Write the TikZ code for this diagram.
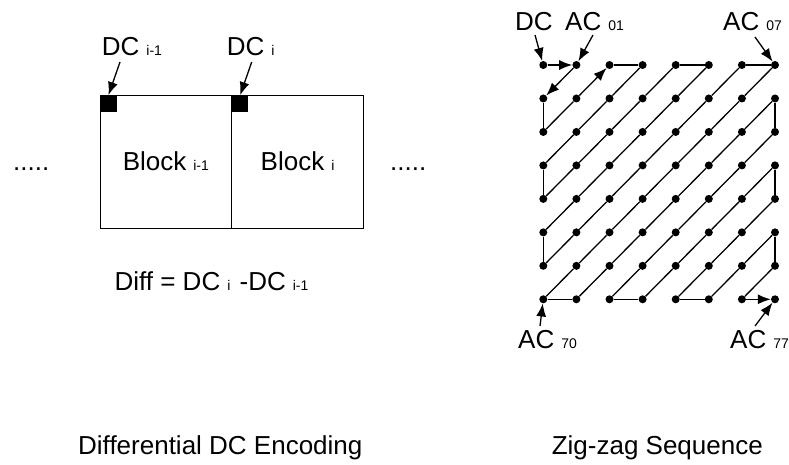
\documentclass[tikz,border=0pt]{standalone}
\usepackage{fontspec}
\setmainfont{Liberation Sans}
\usetikzlibrary{arrows.meta}
\newcommand{\sbs}[1]{\hspace{7pt}{\fontsize{14}{16}\selectfont #1}}
\begin{document}
\begin{tikzpicture}[x=1pt,y=-1pt,
  lbl/.style={inner sep=0pt, font=\fontsize{26}{30}\selectfont, anchor=base west},
  dot/.style={circle, fill=black, inner sep=0pt, minimum size=8pt},
  zz/.style={line width=1.3pt},
  arr/.style={line width=1.3pt, -{Latex[length=13pt,width=10pt]}},
  blk/.style={draw, line width=1pt, minimum width=131.7pt, minimum height=133.3pt, inner sep=0pt, font=\fontsize{26}{30}\selectfont},
  sqr/.style={fill=black, minimum size=16.5pt, inner sep=0pt}]
\useasboundingbox (0,0) rectangle (789,464);
\fill[white] (0,0) rectangle (789,464);
% ---------- Differential DC encoding ----------
\node[blk] (b1) at (165.85,161.65) {Block\sbs{i-1}};
\node[blk] (b2) at (297.55,161.65) {Block\sbs{i}};
\node[sqr] (sq1) at (108.5,103.5) {};
\node[sqr] (sq2) at (240.2,103.5) {};
\node[lbl] (dcim1) at (101.7,55) {DC\sbs{i-1}};
\node[lbl] (dci) at (226.7,55) {DC\sbs{i}};
\coordinate (ta) at (120,62);
\coordinate (tb) at (251.7,62);
\draw[arr] (ta) -- (sq1.north);
\draw[arr] (tb) -- (sq2.north);
\node[lbl] (dotl) at (13,170.7) {.....};
\node[lbl] (dotr) at (390,170.7) {.....};
\node[lbl, anchor=base] (diff) at (211.5,290) {Diff = DC\sbs{i}\hspace{2pt} -DC\sbs{i-1}};
\node[lbl] (tdiff) at (78,454) {Differential DC Encoding};
% ---------- Zig-zag ----------
\foreach \r in {0,...,7}
  \foreach \c in {0,...,7}
    \node[dot] (d\r\c) at ({543.3+33.1*\c},{65+33.47*\r}) {};
\foreach \a/\b in {10/20, 20/11, 02/03, 03/12, 12/21, 21/30, 30/40, 40/31, 31/22, 22/13, 13/04, 04/05,
  05/14, 14/23, 23/32, 32/41, 41/50, 50/60, 60/51, 51/42, 42/33, 33/24, 24/15, 15/06, 06/07,
  07/16, 16/25, 25/34, 34/43, 43/52, 52/61, 61/70, 70/71, 71/62, 62/53, 53/44, 44/35, 35/26,
  26/17, 17/27, 27/36, 36/45, 45/54, 54/63, 63/72, 72/73, 73/64, 64/55, 55/46, 46/37, 37/47,
  47/56, 56/65, 65/74, 74/75, 75/66, 66/57, 57/67, 67/76}
  \draw[zz] (d\a) -- (d\b);
\draw[arr] (d00) -- (d01);
\draw[arr] (d01) -- (d10);
\draw[arr] (d11) -- (d02);
\draw[arr] (d76) -- (d77);
\node[lbl] (ldc) at (515,30) {DC};
\node[lbl] (lac01) at (565,30) {AC\sbs{01}};
\node[lbl] (lac07) at (723,30) {AC\sbs{07}};
\node[lbl] (lac70) at (518,348) {AC\sbs{70}};
\node[lbl] (lac77) at (730,348) {AC\sbs{77}};
\coordinate (tdc) at (535,35);
\coordinate (t01) at (593,35);
\coordinate (t07) at (755,37);
\coordinate (t70) at (540,326);
\coordinate (t77) at (755,326);
\draw[arr] (tdc) -- (d00);
\draw[arr] (t01) -- (d01);
\draw[arr] (t07) -- (d07);
\draw[arr] (t70) -- (d70);
\draw[arr] (t77) -- (d77);
\node[lbl, anchor=base east] (tzz) at (763,454) {Zig-zag Sequence};
\end{tikzpicture}
\end{document}
